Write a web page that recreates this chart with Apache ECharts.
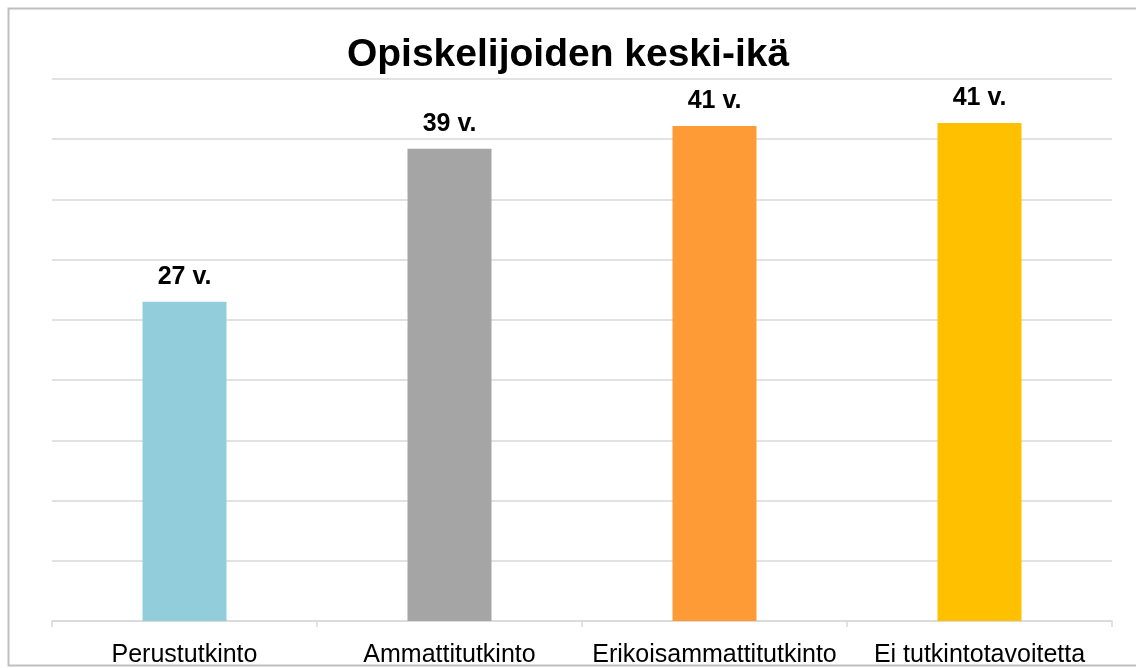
<!DOCTYPE html>
<html>
<head>
<meta charset="utf-8">
<script src="https://cdn.jsdelivr.net/npm/echarts@6/dist/echarts.min.js"></script>
<style>
html,body{margin:0;padding:0;background:#fff;}
#chart{width:1136px;height:668px;}
</style>
</head>
<body>
<div id="chart"></div>
<script>
const categories = ["Perustutkinto", "Ammattitutkinto", "Erikoisammattitutkinto", "Ei tutkintotavoitetta"];
const values = [26.5, 39.2, 41.1, 41.35];
const colors = ["#92CDDC", "#A5A5A5", "#FF9B37", "#FFC000"];
const titleText = "Opiskelijoiden keski-ikä";

const chart = echarts.init(document.getElementById('chart'), null, {renderer: 'canvas'});
chart.setOption({
  animation: false,
  backgroundColor: '#fff',
  title: {
    text: titleText,
    left: 'center',
    top: 31,
    textStyle: {fontFamily: 'Liberation Sans', fontWeight: 'bold', fontSize: 39, color: '#000'}
  },
  graphic: [{
    type: 'rect',
    shape: {x: 8.5, y: 8.5, width: 1140, height: 657},
    style: {fill: 'none', stroke: '#bfbfbf', lineWidth: 2},
    silent: true
  }],
  grid: {left: 52, right: 24, top: 79, bottom: 46, containLabel: false},
  xAxis: {
    type: 'category',
    data: categories,
    axisLine: {lineStyle: {color: '#d9d9d9', width: 1.5}},
    axisTick: {show: true, length: 6, lineStyle: {color: '#d9d9d9', width: 1.5}},
    axisLabel: {interval: 0, fontFamily: 'Liberation Sans', fontSize: 25, color: '#000', margin: 22}
  },
  yAxis: {
    type: 'value',
    min: 0, max: 45, interval: 5,
    axisLabel: {show: false},
    axisLine: {show: false},
    axisTick: {show: false},
    splitLine: {lineStyle: {color: '#d9d9d9', width: 1.5}}
  },
  series: [{
    type: 'bar',
    barWidth: 84,
    data: values.map((v, i) => ({value: v, itemStyle: {color: colors[i]}})),
    label: {
      show: true,
      position: 'top',
      distance: 12,
      formatter: p => Math.round(p.value) + ' v.',
      fontFamily: 'Liberation Sans',
      fontWeight: 'bold',
      fontSize: 25,
      color: '#000'
    }
  }]
});
</script>
</body>
</html>
